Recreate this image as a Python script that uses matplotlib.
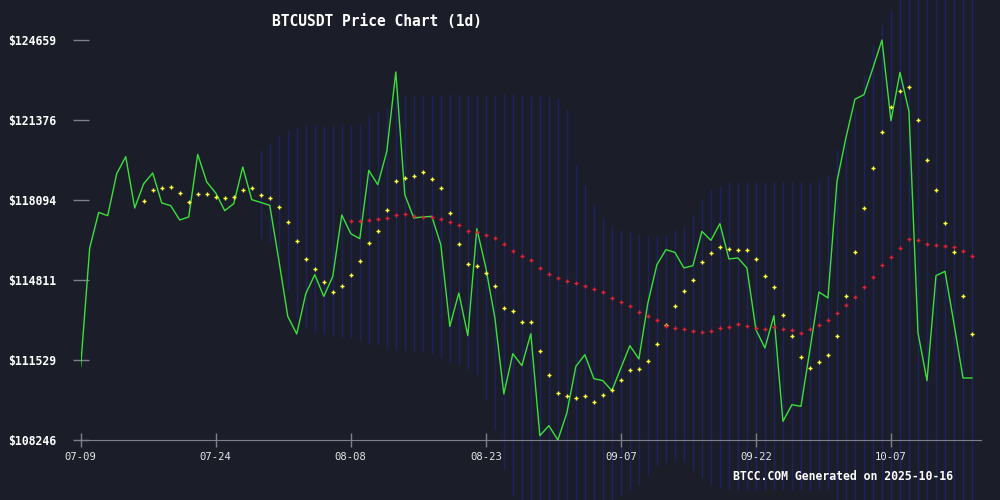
import numpy as np
import pandas as pd
import matplotlib
matplotlib.use('Agg')
from matplotlib import pyplot as plt
from matplotlib.transforms import ScaledTranslation

# daily closes, 2025-07-09 .. 2025-10-16
close = np.array([
    111267, 116125, 117586, 117450, 119174, 119871, 117766, 118763, 119202, 117972,
    117861, 117274, 117397, 119966, 118833, 118382, 117656, 117943, 119449, 118107,
    117996, 117873, 115645, 113319, 112597, 114250, 115030, 114139, 114960, 117479,
    116712, 116507, 119309, 118722, 120089, 123347, 118312, 117356, 117397, 117422,
    116261, 112908, 114279, 112527, 116917, 115317, 113265, 110135, 111788, 111296,
    112609, 108424, 108834, 108246, 109355, 111267, 111747, 110763, 110681, 110270,
    111202, 112117, 111571, 113869, 115440, 116056, 115945, 115305, 115399, 116806,
    116437, 117122, 115674, 115715, 115305, 112773, 112022, 113348, 109011, 109696,
    109626, 111952, 114320, 114074, 118846, 120651, 122230, 122415, 123511, 124659,
    121348, 123330, 121730, 112650, 110681, 114989, 115165, 113019, 110791, 110791])

# yellow markers (from day 7)
ma_fast = np.array([
    118054, 118505, 118587, 118628, 118382, 118013, 118341, 118341, 118218, 118177,
    118218, 118505, 118587, 118300, 118177, 117808, 117192, 116413, 115674, 115264,
    114730, 114320, 114566, 115017, 115592, 116330, 116823, 117684, 118874, 119010,
    119079, 119243, 118956, 118587, 117561, 116289, 115469, 115387, 115099, 114566,
    113663, 113540, 113089, 113089, 111899, 110914, 110176, 110053, 109971, 110053,
    109807, 110094, 110299, 110709, 111120, 111161, 111489, 112186, 112966, 113746,
    114361, 114812, 115551, 115920, 116166, 116084, 116043, 116043, 115674, 114976,
    114525, 113376, 112515, 111653, 111202, 111448, 111735, 112515, 114156, 115961,
    117766, 119408, 120885, 121910, 122567, 122731, 121377, 119736, 118505, 117151,
    115961, 114156, 112597])

# red markers (from day 30)
ma_slow = np.array([
    117233, 117233, 117274, 117315, 117356, 117479, 117520, 117438, 117397, 117397,
    117315, 117192, 117069, 116823, 116782, 116659, 116536, 116289, 116002, 115797,
    115633, 115305, 115058, 114894, 114771, 114689, 114566, 114443, 114320, 114074,
    113910, 113746, 113499, 113335, 113171, 112925, 112843, 112802, 112720, 112679,
    112720, 112843, 112884, 113007, 112925, 112843, 112802, 112884, 112802, 112761,
    112638, 112802, 112966, 113171, 113458, 113786, 114115, 114525, 114935, 115428,
    115756, 116125, 116494, 116437, 116273, 116248, 116207, 116166, 116002, 115781])

# band (from day 20)
band_upper = np.array([
    120158, 120446, 120733, 120979, 121102, 121184, 121184, 121143, 121184, 121225,
    121184, 121225, 121595, 121718, 121882, 122333, 122415, 122374, 122415, 122415,
    122415, 122456, 122415, 122415, 122374, 122374, 122415, 122456, 122456, 122415,
    122374, 122374, 122333, 122292, 121800, 119543, 118722, 117902, 117367, 117040,
    116876, 116794, 116712, 116630, 116630, 116712, 116876, 117040, 117492, 118107,
    118517, 118681, 118845, 118845, 118845, 118845, 118845, 118845, 118845, 118845,
    118845, 118845, 118928, 119133, 120158, 120979, 121800, 123236, 124467, 125287,
    125903, 126723, 126723, 126723, 126723, 126723, 126723, 126723, 126723, 126723])
band_lower = np.array([
    116548, 116384, 115850, 114414, 113265, 112855, 112691, 112609, 112527, 112486,
    112445, 112363, 112240, 112158, 112035, 111952, 111952, 111911, 111911, 111829,
    111665, 111460, 111337, 111132, 110968, 109901, 108670, 107029, 106003, 105388,
    105388, 105388, 105388, 105388, 105388, 105388, 105388, 105388, 105593, 105798,
    106003, 106208, 106413, 106824, 107234, 107357, 107439, 107357, 107029, 106701,
    106454, 106290, 106208, 106208, 106208, 106208, 106208, 106208, 106208, 106208,
    106208, 106208, 106208, 106208, 105388, 105388, 105388, 105388, 105388, 105388,
    105388, 105388, 105388, 105388, 105388, 105388, 105388, 105388, 105388, 105388])

dates = pd.date_range('2025-07-09', periods=len(close), freq='D')

bg = '#1b1e29'
grey = '#80808c'
mono = 'DejaVu Sans Mono'

fig = plt.figure(figsize=(10, 5), dpi=100, facecolor=bg)
ax = fig.add_axes([0.0807, 0.12, 0.9003, 0.88])
ax.set_facecolor(bg)

ax.vlines(dates[len(close) - len(band_upper):], band_lower, band_upper,
          colors='#1d2262', linewidth=1.0, clip_on=False, zorder=1)
ax.plot(dates, close, color='#3be03b', linewidth=1.0, zorder=3)
ax.plot(dates[len(close) - len(ma_fast):], ma_fast, linestyle='none', marker='+',
        markersize=3.3, markeredgewidth=1.0, color='#ffff44', zorder=4)
ax.plot(dates[len(close) - len(ma_slow):], ma_slow, linestyle='none', marker='+',
        markersize=3.3, markeredgewidth=1.0, color='#e0203c', zorder=4)

ymin, ymax = close.min(), close.max()
ax.set_ylim(ymin, ymin + (ymax - ymin) * 1.1)
ax.set_xlim(dates[0], dates[0] + pd.Timedelta(days=len(close)))

yt = np.linspace(ymin, ymax, 6)
ax.set_yticks(yt)
ax.set_yticklabels(['$%d' % round(v) for v in yt], fontfamily=mono,
                   fontweight='bold', fontsize=8.3, color='white')
xt = dates[::15]
ax.set_xticks(xt)
ax.set_xticklabels([d.strftime('%m-%d') for d in xt], fontfamily=mono,
                   fontsize=7.6, color='#e6e6e6')
for lbl in ax.get_xticklabels():
    lbl.set_transform(lbl.get_transform() + ScaledTranslation(-11.5 / 100, 0, fig.dpi_scale_trans))

for s in ['top', 'right', 'left']:
    ax.spines[s].set_visible(False)
ax.spines['bottom'].set_color(grey)
ax.tick_params(axis='y', direction='inout', length=11, width=1, color=grey, pad=12)
ax.tick_params(axis='x', direction='inout', length=10, width=1, color=grey, pad=4)

fig.text(0.377, 0.956, 'BTCUSDT Price Chart (1d)', ha='center', va='center',
         fontfamily=mono, fontweight='bold', fontsize=10.5, color='white')
fig.text(0.953, 0.046, 'BTCC.COM Generated on 2025-10-16', ha='right', va='center',
         fontfamily=mono, fontweight='bold', fontsize=8.3, color='white')

fig.savefig('out.png', dpi=100, facecolor=bg)
